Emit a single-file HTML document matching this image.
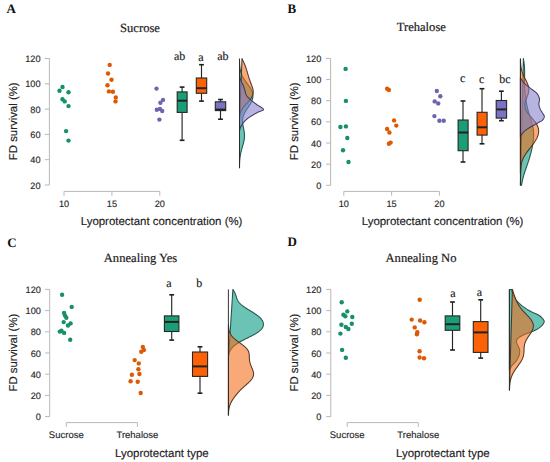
<!DOCTYPE html>
<html><head><meta charset="utf-8"><style>
html,body{margin:0;padding:0;background:#fff;}
svg{display:block;text-rendering:geometricPrecision;}
.ax{stroke:#b8b8b8;stroke-width:1;fill:none;}
.tc{font-family:"Liberation Sans",sans-serif;font-size:9.5px;fill:#2a2a2a;stroke:#2a2a2a;stroke-width:0.15px;}
.tk{font-family:"Liberation Sans",sans-serif;font-size:9.2px;fill:#2a2a2a;stroke:#2a2a2a;stroke-width:0.15px;}
.xl{font-family:"Liberation Sans",sans-serif;font-size:11.45px;fill:#222;stroke:#222;stroke-width:0.15px;}
.yl{font-family:"Liberation Sans",sans-serif;font-size:11.4px;fill:#222;stroke:#222;stroke-width:0.15px;}
.ti{font-family:"Liberation Serif",serif;font-size:12.6px;fill:#222;stroke:#222;stroke-width:0.2px;}
.pl{font-family:"Liberation Serif",serif;font-size:13px;font-weight:bold;fill:#111;}
.lt{font-family:"Liberation Serif",serif;font-size:12px;fill:#1a1a1a;stroke:#1a1a1a;stroke-width:0.15px;}
.wh{stroke:#262626;stroke-width:1.15;}
.cap{stroke:#1e1e1e;stroke-width:1.6;}
.bx{stroke:#262626;stroke-width:1.1;}
.md{stroke:#222;stroke-width:2;}
.dn{stroke-opacity:0.95;stroke-width:1.05;stroke-linejoin:round;}
.bl{stroke:#2a2a2a;stroke-width:0.95;}
</style></head>
<body><svg width="550" height="462" viewBox="0 0 550 462">
<text x="6.6" y="12.7" class="pl">A</text>
<text x="140" y="31.7" class="ti" text-anchor="middle">Sucrose</text>
<line x1="49.4" y1="58.5" x2="49.4" y2="185.0" class="ax"/>
<line x1="44.8" y1="58.5" x2="49.4" y2="58.5" class="ax"/>
<text x="40.6" y="62.1" class="tk" text-anchor="end">120</text>
<line x1="44.8" y1="83.8" x2="49.4" y2="83.8" class="ax"/>
<text x="40.6" y="87.39999999999999" class="tk" text-anchor="end">100</text>
<line x1="44.8" y1="109.1" x2="49.4" y2="109.1" class="ax"/>
<text x="40.6" y="112.69999999999999" class="tk" text-anchor="end">80</text>
<line x1="44.8" y1="134.4" x2="49.4" y2="134.4" class="ax"/>
<text x="40.6" y="138.0" class="tk" text-anchor="end">60</text>
<line x1="44.8" y1="159.7" x2="49.4" y2="159.7" class="ax"/>
<text x="40.6" y="163.29999999999998" class="tk" text-anchor="end">40</text>
<line x1="44.8" y1="185.0" x2="49.4" y2="185.0" class="ax"/>
<text x="40.6" y="188.6" class="tk" text-anchor="end">20</text>
<line x1="64" y1="191.4" x2="159.8" y2="191.4" class="ax"/>
<line x1="64" y1="191.4" x2="64" y2="195.70000000000002" class="ax"/>
<text x="64" y="206.9" class="tk" text-anchor="middle">10</text>
<line x1="111.9" y1="191.4" x2="111.9" y2="195.70000000000002" class="ax"/>
<text x="111.9" y="206.9" class="tk" text-anchor="middle">15</text>
<line x1="159.8" y1="191.4" x2="159.8" y2="195.70000000000002" class="ax"/>
<text x="159.8" y="206.9" class="tk" text-anchor="middle">20</text>
<text x="161.6" y="224.8" class="xl" text-anchor="middle">Lyoprotectant concentration (%)</text>
<text class="yl" transform="translate(17.4,121.3) rotate(-90)" text-anchor="middle">FD survival (%)</text>
<circle cx="62.5" cy="87" r="2.2" fill="#168f6b"/>
<circle cx="59.5" cy="90.8" r="2.2" fill="#168f6b"/>
<circle cx="68.5" cy="92.2" r="2.2" fill="#168f6b"/>
<circle cx="62.5" cy="99.2" r="2.2" fill="#168f6b"/>
<circle cx="64.7" cy="101.4" r="2.2" fill="#168f6b"/>
<circle cx="68.5" cy="106.1" r="2.2" fill="#168f6b"/>
<circle cx="66.1" cy="131.1" r="2.2" fill="#168f6b"/>
<circle cx="68.5" cy="140.6" r="2.2" fill="#168f6b"/>
<circle cx="109.7" cy="64.9" r="2.2" fill="#dc5a06"/>
<circle cx="108" cy="73.5" r="2.2" fill="#dc5a06"/>
<circle cx="111.5" cy="79.8" r="2.2" fill="#dc5a06"/>
<circle cx="107.5" cy="85.3" r="2.2" fill="#dc5a06"/>
<circle cx="108.9" cy="91.4" r="2.2" fill="#dc5a06"/>
<circle cx="112.9" cy="91.7" r="2.2" fill="#dc5a06"/>
<circle cx="115.8" cy="97.4" r="2.2" fill="#dc5a06"/>
<circle cx="115.5" cy="101.4" r="2.2" fill="#dc5a06"/>
<circle cx="156.5" cy="88.6" r="2.2" fill="#6c66b0"/>
<circle cx="163" cy="99.9" r="2.2" fill="#6c66b0"/>
<circle cx="160.4" cy="102.8" r="2.2" fill="#6c66b0"/>
<circle cx="156.8" cy="109.7" r="2.2" fill="#6c66b0"/>
<circle cx="159.9" cy="108.9" r="2.2" fill="#6c66b0"/>
<circle cx="162.2" cy="111" r="2.2" fill="#6c66b0"/>
<circle cx="159.4" cy="119.6" r="2.2" fill="#6c66b0"/>
<line x1="182.1" y1="87.1" x2="182.1" y2="91.9" class="wh"/>
<line x1="182.1" y1="112.4" x2="182.1" y2="140.3" class="wh"/>
<line x1="179.7" y1="87.1" x2="184.5" y2="87.1" class="cap"/>
<line x1="179.7" y1="140.3" x2="184.5" y2="140.3" class="cap"/>
<rect x="177.2" y="91.9" width="9.900000000000006" height="20.5" fill="#1b9e77" class="bx"/>
<line x1="177.2" y1="100.7" x2="187.1" y2="100.7" class="md"/>
<line x1="201.5" y1="64.7" x2="201.5" y2="78" class="wh"/>
<line x1="201.5" y1="93.3" x2="201.5" y2="101.1" class="wh"/>
<line x1="199.1" y1="64.7" x2="203.9" y2="64.7" class="cap"/>
<line x1="199.1" y1="101.1" x2="203.9" y2="101.1" class="cap"/>
<rect x="196.3" y="78" width="10.399999999999977" height="15.299999999999997" fill="#fd6105" class="bx"/>
<line x1="196.3" y1="88.2" x2="206.7" y2="88.2" class="md"/>
<line x1="220.5" y1="99.5" x2="220.5" y2="101.8" class="wh"/>
<line x1="220.5" y1="110.6" x2="220.5" y2="119.2" class="wh"/>
<line x1="218.1" y1="99.5" x2="222.9" y2="99.5" class="cap"/>
<line x1="218.1" y1="119.2" x2="222.9" y2="119.2" class="cap"/>
<rect x="215.3" y="101.8" width="10.399999999999977" height="8.799999999999997" fill="#7a72c2" class="bx"/>
<line x1="215.3" y1="109.6" x2="225.7" y2="109.6" class="md"/>
<text x="179.6" y="60.3" class="lt" text-anchor="middle">ab</text>
<text x="200.9" y="60.5" class="lt" text-anchor="middle">a</text>
<text x="222.9" y="59.5" class="lt" text-anchor="middle">ab</text>
<path d="M 239.50 167.85 L 239.53 167.85 L 239.54 167.17 L 239.55 166.49 L 239.56 165.81 L 239.58 165.13 L 239.59 164.45 L 239.61 163.77 L 239.64 163.09 L 239.67 162.41 L 239.70 161.73 L 239.74 161.05 L 239.78 160.37 L 239.83 159.69 L 239.89 159.01 L 239.96 158.33 L 240.03 157.65 L 240.11 156.97 L 240.20 156.29 L 240.30 155.61 L 240.42 154.93 L 240.54 154.25 L 240.67 153.57 L 240.81 152.89 L 240.96 152.21 L 241.11 151.53 L 241.28 150.85 L 241.46 150.17 L 241.64 149.49 L 241.83 148.81 L 242.02 148.13 L 242.22 147.45 L 242.42 146.77 L 242.61 146.10 L 242.81 145.42 L 243.01 144.74 L 243.20 144.06 L 243.38 143.38 L 243.55 142.70 L 243.72 142.02 L 243.87 141.34 L 244.01 140.66 L 244.13 139.98 L 244.24 139.30 L 244.33 138.62 L 244.40 137.94 L 244.46 137.26 L 244.49 136.58 L 244.51 135.90 L 244.50 135.22 L 244.48 134.54 L 244.44 133.86 L 244.38 133.18 L 244.30 132.50 L 244.21 131.82 L 244.11 131.14 L 243.99 130.46 L 243.86 129.78 L 243.73 129.10 L 243.59 128.42 L 243.45 127.74 L 243.31 127.06 L 243.18 126.38 L 243.05 125.70 L 242.92 125.02 L 242.81 124.34 L 242.72 123.66 L 242.64 122.98 L 242.58 122.30 L 242.55 121.62 L 242.54 120.94 L 242.55 120.26 L 242.60 119.58 L 242.67 118.90 L 242.78 118.22 L 242.92 117.54 L 243.09 116.86 L 243.29 116.18 L 243.52 115.50 L 243.78 114.82 L 244.08 114.14 L 244.40 113.46 L 244.75 112.78 L 245.12 112.10 L 245.51 111.42 L 245.92 110.74 L 246.35 110.06 L 246.79 109.38 L 247.24 108.70 L 247.69 108.02 L 248.15 107.34 L 248.60 106.66 L 249.04 105.98 L 249.48 105.30 L 249.90 104.62 L 250.31 103.94 L 250.69 103.26 L 251.06 102.58 L 251.40 101.90 L 251.71 101.22 L 251.99 100.54 L 252.23 99.86 L 252.44 99.18 L 252.62 98.50 L 252.76 97.82 L 252.85 97.14 L 252.91 96.46 L 252.93 95.78 L 252.90 95.10 L 252.84 94.42 L 252.73 93.74 L 252.58 93.06 L 252.40 92.38 L 252.17 91.70 L 251.91 91.02 L 251.61 90.34 L 251.28 89.66 L 250.91 88.98 L 250.52 88.30 L 250.10 87.62 L 249.66 86.94 L 249.20 86.26 L 248.73 85.58 L 248.24 84.90 L 247.75 84.22 L 247.25 83.54 L 246.75 82.86 L 246.26 82.18 L 245.77 81.50 L 245.29 80.83 L 244.83 80.15 L 244.38 79.47 L 243.94 78.79 L 243.53 78.11 L 243.14 77.43 L 242.77 76.75 L 242.43 76.07 L 242.11 75.39 L 241.81 74.71 L 241.54 74.03 L 241.29 73.35 L 241.06 72.67 L 240.86 71.99 L 240.67 71.31 L 240.51 70.63 L 240.36 69.95 L 240.23 69.27 L 240.12 68.59 L 240.02 67.91 L 239.94 67.23 L 239.87 66.55 L 239.80 65.87 L 239.75 65.19 L 239.71 64.51 L 239.67 63.83 L 239.64 63.15 L 239.61 62.47 L 239.59 61.79 L 239.57 61.11 L 239.56 60.43 L 239.55 59.75 Z" fill="#00977f" fill-opacity="0.58" stroke="#1d4a40" class="dn"/>
<path d="M 239.50 121.21 L 239.54 121.21 L 239.55 120.81 L 239.56 120.42 L 239.58 120.02 L 239.59 119.63 L 239.61 119.24 L 239.63 118.84 L 239.65 118.45 L 239.68 118.05 L 239.71 117.66 L 239.74 117.26 L 239.78 116.87 L 239.82 116.47 L 239.87 116.08 L 239.93 115.69 L 239.99 115.29 L 240.06 114.90 L 240.14 114.50 L 240.22 114.11 L 240.32 113.71 L 240.42 113.32 L 240.53 112.93 L 240.66 112.53 L 240.79 112.14 L 240.94 111.74 L 241.10 111.35 L 241.27 110.95 L 241.45 110.56 L 241.65 110.16 L 241.86 109.77 L 242.08 109.38 L 242.32 108.98 L 242.56 108.59 L 242.82 108.19 L 243.09 107.80 L 243.38 107.40 L 243.67 107.01 L 243.98 106.62 L 244.29 106.22 L 244.61 105.83 L 244.94 105.43 L 245.28 105.04 L 245.62 104.64 L 245.97 104.25 L 246.32 103.85 L 246.68 103.46 L 247.03 103.07 L 247.39 102.67 L 247.74 102.28 L 248.09 101.88 L 248.44 101.49 L 248.78 101.09 L 249.12 100.70 L 249.45 100.30 L 249.77 99.91 L 250.08 99.52 L 250.38 99.12 L 250.67 98.73 L 250.94 98.33 L 251.20 97.94 L 251.45 97.54 L 251.69 97.15 L 251.91 96.76 L 252.11 96.36 L 252.29 95.97 L 252.46 95.57 L 252.62 95.18 L 252.75 94.78 L 252.87 94.39 L 252.97 93.99 L 253.05 93.60 L 253.12 93.21 L 253.17 92.81 L 253.20 92.42 L 253.21 92.02 L 253.21 91.63 L 253.20 91.23 L 253.17 90.84 L 253.12 90.45 L 253.07 90.05 L 253.00 89.66 L 252.91 89.26 L 252.82 88.87 L 252.72 88.47 L 252.61 88.08 L 252.49 87.68 L 252.37 87.29 L 252.23 86.90 L 252.10 86.50 L 251.96 86.11 L 251.81 85.71 L 251.67 85.32 L 251.52 84.92 L 251.37 84.53 L 251.22 84.14 L 251.07 83.74 L 250.92 83.35 L 250.77 82.95 L 250.62 82.56 L 250.48 82.16 L 250.33 81.77 L 250.19 81.37 L 250.05 80.98 L 249.91 80.59 L 249.77 80.19 L 249.64 79.80 L 249.51 79.40 L 249.38 79.01 L 249.25 78.61 L 249.12 78.22 L 249.00 77.82 L 248.87 77.43 L 248.75 77.04 L 248.63 76.64 L 248.51 76.25 L 248.39 75.85 L 248.27 75.46 L 248.16 75.06 L 248.04 74.67 L 247.92 74.28 L 247.81 73.88 L 247.69 73.49 L 247.58 73.09 L 247.46 72.70 L 247.35 72.30 L 247.23 71.91 L 247.11 71.51 L 247.00 71.12 L 246.88 70.73 L 246.76 70.33 L 246.64 69.94 L 246.52 69.54 L 246.39 69.15 L 246.27 68.75 L 246.14 68.36 L 246.01 67.97 L 245.87 67.57 L 245.74 67.18 L 245.59 66.78 L 245.45 66.39 L 245.30 65.99 L 245.15 65.60 L 244.99 65.20 L 244.83 64.81 L 244.67 64.42 L 244.50 64.02 L 244.33 63.63 L 244.15 63.23 L 243.98 62.84 L 243.80 62.44 L 243.62 62.05 L 243.43 61.66 L 243.25 61.26 L 243.07 60.87 L 242.89 60.47 L 242.70 60.08 L 242.52 59.68 L 242.35 59.29 L 242.17 58.89 L 242.00 58.50 Z" fill="#f56916" fill-opacity="0.58" stroke="#4a2e1c" class="dn"/>
<path d="M 239.50 76.00 L 239.50 76.00 L 239.57 76.35 L 239.65 76.69 L 239.73 77.04 L 239.82 77.38 L 239.92 77.73 L 240.01 78.08 L 240.12 78.42 L 240.22 78.77 L 240.33 79.11 L 240.45 79.46 L 240.57 79.81 L 240.69 80.15 L 240.81 80.50 L 240.94 80.84 L 241.07 81.19 L 241.22 81.53 L 241.38 81.88 L 241.55 82.23 L 241.74 82.57 L 241.92 82.92 L 242.12 83.26 L 242.31 83.61 L 242.51 83.96 L 242.70 84.30 L 242.88 84.65 L 243.06 84.99 L 243.22 85.34 L 243.37 85.69 L 243.51 86.03 L 243.64 86.38 L 243.76 86.72 L 243.87 87.07 L 243.98 87.42 L 244.08 87.76 L 244.18 88.11 L 244.28 88.45 L 244.37 88.80 L 244.47 89.14 L 244.56 89.49 L 244.66 89.84 L 244.76 90.18 L 244.86 90.53 L 244.96 90.87 L 245.07 91.22 L 245.17 91.57 L 245.27 91.91 L 245.36 92.26 L 245.46 92.60 L 245.56 92.95 L 245.66 93.30 L 245.77 93.64 L 245.89 93.99 L 246.02 94.33 L 246.16 94.68 L 246.31 95.03 L 246.49 95.37 L 246.71 95.72 L 246.95 96.06 L 247.21 96.41 L 247.50 96.75 L 247.81 97.10 L 248.13 97.45 L 248.46 97.79 L 248.81 98.14 L 249.16 98.48 L 249.52 98.83 L 249.87 99.18 L 250.23 99.52 L 250.61 99.87 L 251.01 100.21 L 251.43 100.56 L 251.86 100.91 L 252.31 101.25 L 252.77 101.60 L 253.23 101.94 L 253.70 102.29 L 254.18 102.64 L 254.65 102.98 L 255.13 103.33 L 255.60 103.67 L 256.07 104.02 L 256.52 104.36 L 256.98 104.71 L 257.49 105.06 L 258.04 105.40 L 258.62 105.75 L 259.22 106.09 L 259.82 106.44 L 260.42 106.79 L 261.00 107.13 L 261.54 107.48 L 262.04 107.82 L 262.49 108.17 L 262.87 108.52 L 263.17 108.86 L 263.38 109.21 L 263.49 109.55 L 263.42 109.90 L 262.96 110.25 L 262.18 110.59 L 261.22 110.94 L 260.18 111.28 L 259.18 111.63 L 258.35 111.97 L 257.67 112.32 L 257.02 112.67 L 256.39 113.01 L 255.77 113.36 L 255.17 113.70 L 254.58 114.05 L 254.00 114.40 L 253.43 114.74 L 252.85 115.09 L 252.28 115.43 L 251.70 115.78 L 251.13 116.13 L 250.57 116.47 L 250.02 116.82 L 249.49 117.16 L 248.98 117.51 L 248.49 117.86 L 248.04 118.20 L 247.60 118.55 L 247.17 118.89 L 246.76 119.24 L 246.36 119.58 L 245.98 119.93 L 245.61 120.28 L 245.26 120.62 L 244.93 120.97 L 244.61 121.31 L 244.30 121.66 L 244.00 122.01 L 243.72 122.35 L 243.44 122.70 L 243.18 123.04 L 242.92 123.39 L 242.68 123.74 L 242.45 124.08 L 242.21 124.43 L 241.99 124.77 L 241.76 125.12 L 241.55 125.47 L 241.34 125.81 L 241.14 126.16 L 240.95 126.50 L 240.78 126.85 L 240.62 127.19 L 240.48 127.54 L 240.35 127.89 L 240.23 128.23 L 240.11 128.58 L 240.00 128.92 L 239.89 129.27 L 239.79 129.62 L 239.70 129.96 L 239.62 130.31 L 239.56 130.65 L 239.50 131.00 Z" fill="#837ecb" fill-opacity="0.58" stroke="#36345a" class="dn"/>
<line x1="239.5" y1="58.5" x2="239.5" y2="167.85177718704466" class="bl"/>
<text x="287.6" y="13" class="pl">B</text>
<text x="421.3" y="31.3" class="ti" text-anchor="middle">Trehalose</text>
<line x1="330.6" y1="58.4" x2="330.6" y2="185.3" class="ax"/>
<line x1="326.0" y1="58.4" x2="330.6" y2="58.4" class="ax"/>
<text x="321.3" y="62.0" class="tk" text-anchor="end">120</text>
<line x1="326.0" y1="79.55" x2="330.6" y2="79.55" class="ax"/>
<text x="321.3" y="83.14999999999999" class="tk" text-anchor="end">100</text>
<line x1="326.0" y1="100.69999999999999" x2="330.6" y2="100.69999999999999" class="ax"/>
<text x="321.3" y="104.29999999999998" class="tk" text-anchor="end">80</text>
<line x1="326.0" y1="121.85" x2="330.6" y2="121.85" class="ax"/>
<text x="321.3" y="125.44999999999999" class="tk" text-anchor="end">60</text>
<line x1="326.0" y1="143.0" x2="330.6" y2="143.0" class="ax"/>
<text x="321.3" y="146.6" class="tk" text-anchor="end">40</text>
<line x1="326.0" y1="164.15" x2="330.6" y2="164.15" class="ax"/>
<text x="321.3" y="167.75" class="tk" text-anchor="end">20</text>
<line x1="326.0" y1="185.3" x2="330.6" y2="185.3" class="ax"/>
<text x="321.3" y="188.9" class="tk" text-anchor="end">0</text>
<line x1="343.8" y1="191.4" x2="439.4" y2="191.4" class="ax"/>
<line x1="343.8" y1="191.4" x2="343.8" y2="195.70000000000002" class="ax"/>
<text x="343.8" y="206.9" class="tk" text-anchor="middle">10</text>
<line x1="391.6" y1="191.4" x2="391.6" y2="195.70000000000002" class="ax"/>
<text x="391.6" y="206.9" class="tk" text-anchor="middle">15</text>
<line x1="439.4" y1="191.4" x2="439.4" y2="195.70000000000002" class="ax"/>
<text x="439.4" y="206.9" class="tk" text-anchor="middle">20</text>
<text x="442.6" y="224.8" class="xl" text-anchor="middle">Lyoprotectant concentration (%)</text>
<text class="yl" transform="translate(298.3,121.3) rotate(-90)" text-anchor="middle">FD survival (%)</text>
<circle cx="345.6" cy="68.9" r="2.2" fill="#168f6b"/>
<circle cx="345.9" cy="100.9" r="2.2" fill="#168f6b"/>
<circle cx="340.4" cy="127" r="2.2" fill="#168f6b"/>
<circle cx="345.9" cy="126.4" r="2.2" fill="#168f6b"/>
<circle cx="347.3" cy="138" r="2.2" fill="#168f6b"/>
<circle cx="343" cy="150.3" r="2.2" fill="#168f6b"/>
<circle cx="348.5" cy="162" r="2.2" fill="#168f6b"/>
<circle cx="387.1" cy="88.8" r="2.2" fill="#dc5a06"/>
<circle cx="388.9" cy="90" r="2.2" fill="#dc5a06"/>
<circle cx="394.1" cy="120.4" r="2.2" fill="#dc5a06"/>
<circle cx="396.3" cy="125.6" r="2.2" fill="#dc5a06"/>
<circle cx="387.1" cy="129" r="2.2" fill="#dc5a06"/>
<circle cx="389.4" cy="132.5" r="2.2" fill="#dc5a06"/>
<circle cx="388.9" cy="143.8" r="2.2" fill="#dc5a06"/>
<circle cx="390.6" cy="142.6" r="2.2" fill="#dc5a06"/>
<circle cx="436.8" cy="91" r="2.2" fill="#6c66b0"/>
<circle cx="440.3" cy="96.2" r="2.2" fill="#6c66b0"/>
<circle cx="434.7" cy="101.4" r="2.2" fill="#6c66b0"/>
<circle cx="438.2" cy="103.4" r="2.2" fill="#6c66b0"/>
<circle cx="434.4" cy="116.1" r="2.2" fill="#6c66b0"/>
<circle cx="439.4" cy="120.8" r="2.2" fill="#6c66b0"/>
<circle cx="443.7" cy="120.8" r="2.2" fill="#6c66b0"/>
<line x1="463" y1="101" x2="463" y2="120" class="wh"/>
<line x1="463" y1="150.7" x2="463" y2="162" class="wh"/>
<line x1="460.6" y1="101" x2="465.4" y2="101" class="cap"/>
<line x1="460.6" y1="162" x2="465.4" y2="162" class="cap"/>
<rect x="458.1" y="120" width="10.0" height="30.69999999999999" fill="#1b9e77" class="bx"/>
<line x1="458.1" y1="132.5" x2="468.1" y2="132.5" class="md"/>
<line x1="482" y1="88.7" x2="482" y2="112.3" class="wh"/>
<line x1="482" y1="135.1" x2="482" y2="143.8" class="wh"/>
<line x1="479.6" y1="88.7" x2="484.4" y2="88.7" class="cap"/>
<line x1="479.6" y1="143.8" x2="484.4" y2="143.8" class="cap"/>
<rect x="477.1" y="112.3" width="10.0" height="22.799999999999997" fill="#fd6105" class="bx"/>
<line x1="477.1" y1="127.3" x2="487.1" y2="127.3" class="md"/>
<line x1="501.4" y1="91.2" x2="501.4" y2="100.5" class="wh"/>
<line x1="501.4" y1="118.1" x2="501.4" y2="120.7" class="wh"/>
<line x1="499.0" y1="91.2" x2="503.79999999999995" y2="91.2" class="cap"/>
<line x1="499.0" y1="120.7" x2="503.79999999999995" y2="120.7" class="cap"/>
<rect x="496.2" y="100.5" width="10.400000000000034" height="17.599999999999994" fill="#7a72c2" class="bx"/>
<line x1="496.2" y1="109.4" x2="506.6" y2="109.4" class="md"/>
<text x="462.7" y="81.5" class="lt" text-anchor="middle">c</text>
<text x="481.7" y="83" class="lt" text-anchor="middle">c</text>
<text x="505" y="83" class="lt" text-anchor="middle">bc</text>
<path d="M 520.40 185.30 L 521.53 185.30 L 521.65 184.50 L 521.79 183.70 L 521.93 182.91 L 522.08 182.11 L 522.24 181.31 L 522.41 180.51 L 522.59 179.71 L 522.78 178.92 L 522.98 178.12 L 523.19 177.32 L 523.41 176.52 L 523.64 175.72 L 523.88 174.92 L 524.12 174.13 L 524.37 173.33 L 524.63 172.53 L 524.89 171.73 L 525.15 170.93 L 525.43 170.14 L 525.70 169.34 L 525.98 168.54 L 526.25 167.74 L 526.53 166.94 L 526.81 166.15 L 527.09 165.35 L 527.37 164.55 L 527.64 163.75 L 527.91 162.95 L 528.18 162.15 L 528.44 161.36 L 528.70 160.56 L 528.96 159.76 L 529.21 158.96 L 529.45 158.16 L 529.69 157.37 L 529.92 156.57 L 530.15 155.77 L 530.37 154.97 L 530.58 154.17 L 530.79 153.38 L 530.99 152.58 L 531.19 151.78 L 531.38 150.98 L 531.56 150.18 L 531.74 149.38 L 531.92 148.59 L 532.08 147.79 L 532.25 146.99 L 532.40 146.19 L 532.55 145.39 L 532.69 144.60 L 532.83 143.80 L 532.96 143.00 L 533.08 142.20 L 533.19 141.40 L 533.29 140.61 L 533.38 139.81 L 533.46 139.01 L 533.53 138.21 L 533.58 137.41 L 533.62 136.62 L 533.65 135.82 L 533.66 135.02 L 533.66 134.22 L 533.64 133.42 L 533.60 132.62 L 533.54 131.83 L 533.47 131.03 L 533.38 130.23 L 533.28 129.43 L 533.15 128.63 L 533.02 127.84 L 532.86 127.04 L 532.69 126.24 L 532.50 125.44 L 532.31 124.64 L 532.10 123.85 L 531.88 123.05 L 531.65 122.25 L 531.41 121.45 L 531.17 120.65 L 530.92 119.85 L 530.66 119.06 L 530.41 118.26 L 530.16 117.46 L 529.90 116.66 L 529.65 115.86 L 529.40 115.07 L 529.16 114.27 L 528.92 113.47 L 528.69 112.67 L 528.46 111.87 L 528.25 111.08 L 528.03 110.28 L 527.83 109.48 L 527.64 108.68 L 527.45 107.88 L 527.27 107.08 L 527.09 106.29 L 526.93 105.49 L 526.77 104.69 L 526.61 103.89 L 526.47 103.09 L 526.32 102.30 L 526.19 101.50 L 526.06 100.70 L 525.93 99.90 L 525.81 99.10 L 525.69 98.31 L 525.58 97.51 L 525.47 96.71 L 525.36 95.91 L 525.26 95.11 L 525.17 94.32 L 525.08 93.52 L 524.99 92.72 L 524.91 91.92 L 524.84 91.12 L 524.77 90.32 L 524.71 89.53 L 524.66 88.73 L 524.62 87.93 L 524.58 87.13 L 524.55 86.33 L 524.52 85.54 L 524.51 84.74 L 524.50 83.94 L 524.49 83.14 L 524.49 82.34 L 524.50 81.55 L 524.51 80.75 L 524.53 79.95 L 524.54 79.15 L 524.56 78.35 L 524.58 77.55 L 524.60 76.76 L 524.62 75.96 L 524.64 75.16 L 524.65 74.36 L 524.66 73.56 L 524.66 72.77 L 524.66 71.97 L 524.65 71.17 L 524.64 70.37 L 524.61 69.57 L 524.58 68.78 L 524.53 67.98 L 524.48 67.18 L 524.42 66.38 L 524.35 65.58 L 524.27 64.78 L 524.18 63.99 L 524.09 63.19 L 523.98 62.39 L 523.87 61.59 L 523.76 60.79 L 523.63 60.00 L 523.50 59.20 L 523.37 58.40 Z" fill="#00977f" fill-opacity="0.58" stroke="#1d4a40" class="dn"/>
<path d="M 520.40 173.34 L 520.48 173.34 L 520.50 172.63 L 520.52 171.91 L 520.55 171.19 L 520.59 170.47 L 520.63 169.76 L 520.68 169.04 L 520.74 168.32 L 520.81 167.60 L 520.89 166.89 L 520.98 166.17 L 521.09 165.45 L 521.21 164.73 L 521.35 164.02 L 521.51 163.30 L 521.68 162.58 L 521.88 161.86 L 522.10 161.15 L 522.35 160.43 L 522.62 159.71 L 522.91 158.99 L 523.24 158.28 L 523.58 157.56 L 523.96 156.84 L 524.36 156.12 L 524.78 155.41 L 525.23 154.69 L 525.70 153.97 L 526.19 153.25 L 526.70 152.54 L 527.22 151.82 L 527.76 151.10 L 528.31 150.38 L 528.87 149.67 L 529.44 148.95 L 530.01 148.23 L 530.57 147.51 L 531.14 146.80 L 531.70 146.08 L 532.25 145.36 L 532.79 144.64 L 533.31 143.93 L 533.83 143.21 L 534.32 142.49 L 534.80 141.77 L 535.25 141.06 L 535.69 140.34 L 536.09 139.62 L 536.48 138.90 L 536.84 138.19 L 537.17 137.47 L 537.47 136.75 L 537.75 136.03 L 537.99 135.31 L 538.19 134.60 L 538.36 133.88 L 538.50 133.16 L 538.60 132.44 L 538.65 131.73 L 538.67 131.01 L 538.64 130.29 L 538.57 129.57 L 538.45 128.86 L 538.29 128.14 L 538.08 127.42 L 537.82 126.70 L 537.52 125.99 L 537.17 125.27 L 536.78 124.55 L 536.35 123.83 L 535.88 123.12 L 535.38 122.40 L 534.85 121.68 L 534.29 120.96 L 533.71 120.25 L 533.11 119.53 L 532.50 118.81 L 531.88 118.09 L 531.26 117.38 L 530.64 116.66 L 530.03 115.94 L 529.44 115.22 L 528.86 114.51 L 528.31 113.79 L 527.79 113.07 L 527.31 112.35 L 526.85 111.64 L 526.44 110.92 L 526.08 110.20 L 525.76 109.48 L 525.48 108.77 L 525.26 108.05 L 525.08 107.33 L 524.95 106.61 L 524.88 105.90 L 524.85 105.18 L 524.87 104.46 L 524.93 103.74 L 525.03 103.03 L 525.18 102.31 L 525.36 101.59 L 525.57 100.87 L 525.80 100.16 L 526.06 99.44 L 526.33 98.72 L 526.62 98.00 L 526.90 97.29 L 527.19 96.57 L 527.47 95.85 L 527.74 95.13 L 527.99 94.41 L 528.22 93.70 L 528.42 92.98 L 528.59 92.26 L 528.72 91.54 L 528.81 90.83 L 528.87 90.11 L 528.88 89.39 L 528.85 88.67 L 528.78 87.96 L 528.66 87.24 L 528.51 86.52 L 528.31 85.80 L 528.08 85.09 L 527.82 84.37 L 527.53 83.65 L 527.22 82.93 L 526.88 82.22 L 526.53 81.50 L 526.17 80.78 L 525.80 80.06 L 525.43 79.35 L 525.05 78.63 L 524.69 77.91 L 524.33 77.19 L 523.98 76.48 L 523.65 75.76 L 523.33 75.04 L 523.03 74.32 L 522.75 73.61 L 522.48 72.89 L 522.24 72.17 L 522.01 71.45 L 521.81 70.74 L 521.63 70.02 L 521.46 69.30 L 521.31 68.58 L 521.18 67.87 L 521.06 67.15 L 520.96 66.43 L 520.87 65.71 L 520.80 65.00 L 520.73 64.28 L 520.67 63.56 L 520.63 62.84 L 520.59 62.13 L 520.55 61.41 L 520.52 60.69 L 520.50 59.97 L 520.48 59.26 Z" fill="#f56916" fill-opacity="0.58" stroke="#4a2e1c" class="dn"/>
<path d="M 520.40 77.00 L 520.40 77.00 L 520.52 77.38 L 520.65 77.75 L 520.80 78.13 L 520.98 78.51 L 521.17 78.89 L 521.37 79.26 L 521.59 79.64 L 521.82 80.02 L 522.06 80.40 L 522.32 80.77 L 522.58 81.15 L 522.85 81.53 L 523.13 81.91 L 523.42 82.28 L 523.75 82.66 L 524.12 83.04 L 524.51 83.42 L 524.94 83.79 L 525.38 84.17 L 525.83 84.55 L 526.31 84.92 L 526.78 85.30 L 527.27 85.68 L 527.75 86.06 L 528.23 86.43 L 528.70 86.81 L 529.15 87.19 L 529.59 87.57 L 530.05 87.94 L 530.53 88.32 L 531.03 88.70 L 531.53 89.08 L 532.05 89.45 L 532.57 89.83 L 533.09 90.21 L 533.60 90.58 L 534.11 90.96 L 534.60 91.34 L 535.08 91.72 L 535.53 92.09 L 535.97 92.47 L 536.37 92.85 L 536.74 93.23 L 537.08 93.60 L 537.37 93.98 L 537.62 94.36 L 537.83 94.74 L 538.04 95.11 L 538.24 95.49 L 538.44 95.87 L 538.63 96.25 L 538.81 96.62 L 538.97 97.00 L 539.12 97.38 L 539.25 97.75 L 539.35 98.13 L 539.43 98.51 L 539.48 98.89 L 539.50 99.26 L 539.49 99.64 L 539.46 100.02 L 539.42 100.40 L 539.36 100.77 L 539.29 101.15 L 539.22 101.53 L 539.15 101.91 L 539.08 102.28 L 539.02 102.66 L 538.97 103.04 L 538.93 103.42 L 538.90 103.79 L 538.90 104.17 L 538.92 104.55 L 538.97 104.92 L 539.03 105.30 L 539.10 105.68 L 539.19 106.06 L 539.30 106.43 L 539.41 106.81 L 539.53 107.19 L 539.66 107.57 L 539.79 107.94 L 539.93 108.32 L 540.06 108.70 L 540.21 109.08 L 540.38 109.45 L 540.57 109.83 L 540.79 110.21 L 541.02 110.58 L 541.26 110.96 L 541.50 111.34 L 541.74 111.72 L 541.97 112.09 L 542.18 112.47 L 542.40 112.85 L 542.65 113.23 L 542.91 113.60 L 543.17 113.98 L 543.43 114.36 L 543.67 114.74 L 543.89 115.11 L 544.07 115.49 L 544.21 115.87 L 544.28 116.25 L 544.30 116.62 L 544.25 117.00 L 544.16 117.38 L 544.03 117.75 L 543.87 118.13 L 543.68 118.51 L 543.47 118.89 L 543.24 119.26 L 543.00 119.64 L 542.67 120.02 L 542.23 120.40 L 541.71 120.77 L 541.12 121.15 L 540.48 121.53 L 539.79 121.91 L 539.09 122.28 L 538.37 122.66 L 537.67 123.04 L 536.99 123.42 L 536.35 123.79 L 535.70 124.17 L 535.03 124.55 L 534.34 124.92 L 533.64 125.30 L 532.94 125.68 L 532.24 126.06 L 531.54 126.43 L 530.87 126.81 L 530.21 127.19 L 529.58 127.57 L 528.99 127.94 L 528.41 128.32 L 527.84 128.70 L 527.27 129.08 L 526.71 129.45 L 526.17 129.83 L 525.65 130.21 L 525.15 130.58 L 524.68 130.96 L 524.25 131.34 L 523.86 131.72 L 523.52 132.09 L 523.19 132.47 L 522.87 132.85 L 522.56 133.23 L 522.27 133.60 L 521.98 133.98 L 521.71 134.36 L 521.46 134.74 L 521.23 135.11 L 521.01 135.49 L 520.82 135.87 L 520.65 136.25 L 520.51 136.62 L 520.40 137.00 Z" fill="#837ecb" fill-opacity="0.58" stroke="#36345a" class="dn"/>
<line x1="520.4" y1="58.4" x2="520.4" y2="185.3" class="bl"/>
<text x="7.2" y="246.6" class="pl">C</text>
<text x="140.5" y="262.3" class="ti" text-anchor="middle">Annealing Yes</text>
<line x1="49.7" y1="289.4" x2="49.7" y2="416.59999999999997" class="ax"/>
<line x1="45.1" y1="289.4" x2="49.7" y2="289.4" class="ax"/>
<text x="40.9" y="293.0" class="tk" text-anchor="end">120</text>
<line x1="45.1" y1="310.59999999999997" x2="49.7" y2="310.59999999999997" class="ax"/>
<text x="40.9" y="314.2" class="tk" text-anchor="end">100</text>
<line x1="45.1" y1="331.79999999999995" x2="49.7" y2="331.79999999999995" class="ax"/>
<text x="40.9" y="335.4" class="tk" text-anchor="end">80</text>
<line x1="45.1" y1="353.0" x2="49.7" y2="353.0" class="ax"/>
<text x="40.9" y="356.6" class="tk" text-anchor="end">60</text>
<line x1="45.1" y1="374.2" x2="49.7" y2="374.2" class="ax"/>
<text x="40.9" y="377.8" class="tk" text-anchor="end">40</text>
<line x1="45.1" y1="395.4" x2="49.7" y2="395.4" class="ax"/>
<text x="40.9" y="399.0" class="tk" text-anchor="end">20</text>
<line x1="45.1" y1="416.59999999999997" x2="49.7" y2="416.59999999999997" class="ax"/>
<text x="40.9" y="420.2" class="tk" text-anchor="end">0</text>
<line x1="66.3" y1="422.6" x2="137.4" y2="422.6" class="ax"/>
<line x1="66.3" y1="422.6" x2="66.3" y2="426.90000000000003" class="ax"/>
<text x="66.3" y="438.2" class="tc" text-anchor="middle">Sucrose</text>
<line x1="137.4" y1="422.6" x2="137.4" y2="426.90000000000003" class="ax"/>
<text x="137.4" y="438.2" class="tc" text-anchor="middle">Trehalose</text>
<text x="161.9" y="456.5" class="xl" text-anchor="middle">Lyoprotectant type</text>
<text class="yl" transform="translate(17.4,352.6) rotate(-90)" text-anchor="middle">FD survival (%)</text>
<circle cx="62.1" cy="294.7" r="2.2" fill="#168f6b"/>
<circle cx="71.7" cy="306.9" r="2.2" fill="#168f6b"/>
<circle cx="64.1" cy="313" r="2.2" fill="#168f6b"/>
<circle cx="65" cy="315.6" r="2.2" fill="#168f6b"/>
<circle cx="66.3" cy="317.7" r="2.2" fill="#168f6b"/>
<circle cx="63.7" cy="322.1" r="2.2" fill="#168f6b"/>
<circle cx="70.6" cy="323.4" r="2.2" fill="#168f6b"/>
<circle cx="68" cy="325.5" r="2.2" fill="#168f6b"/>
<circle cx="59.8" cy="331.6" r="2.2" fill="#168f6b"/>
<circle cx="61.5" cy="330.7" r="2.2" fill="#168f6b"/>
<circle cx="64.1" cy="332.9" r="2.2" fill="#168f6b"/>
<circle cx="70.2" cy="339.7" r="2.2" fill="#168f6b"/>
<circle cx="142.8" cy="346.9" r="2.2" fill="#dc5a06"/>
<circle cx="143.9" cy="350" r="2.2" fill="#dc5a06"/>
<circle cx="141.3" cy="351.7" r="2.2" fill="#dc5a06"/>
<circle cx="134.7" cy="360.1" r="2.2" fill="#dc5a06"/>
<circle cx="138.8" cy="363.4" r="2.2" fill="#dc5a06"/>
<circle cx="138.4" cy="369.2" r="2.2" fill="#dc5a06"/>
<circle cx="139.4" cy="374" r="2.2" fill="#dc5a06"/>
<circle cx="131.9" cy="374.8" r="2.2" fill="#dc5a06"/>
<circle cx="130.6" cy="381.3" r="2.2" fill="#dc5a06"/>
<circle cx="137.7" cy="381.8" r="2.2" fill="#dc5a06"/>
<circle cx="140.7" cy="393" r="2.2" fill="#dc5a06"/>
<line x1="171.7" y1="294.8" x2="171.7" y2="315.9" class="wh"/>
<line x1="171.7" y1="331.5" x2="171.7" y2="340.1" class="wh"/>
<line x1="169.29999999999998" y1="294.8" x2="174.1" y2="294.8" class="cap"/>
<line x1="169.29999999999998" y1="340.1" x2="174.1" y2="340.1" class="cap"/>
<rect x="164.4" y="315.9" width="14.5" height="15.600000000000023" fill="#1b9e77" class="bx"/>
<line x1="164.4" y1="321.9" x2="178.9" y2="321.9" class="md"/>
<line x1="200" y1="346.8" x2="200" y2="352" class="wh"/>
<line x1="200" y1="376.4" x2="200" y2="393.2" class="wh"/>
<line x1="197.6" y1="346.8" x2="202.4" y2="346.8" class="cap"/>
<line x1="197.6" y1="393.2" x2="202.4" y2="393.2" class="cap"/>
<rect x="192.5" y="352" width="15.099999999999994" height="24.399999999999977" fill="#fd6105" class="bx"/>
<line x1="192.5" y1="366.4" x2="207.6" y2="366.4" class="md"/>
<text x="168.8" y="286.5" class="lt" text-anchor="middle">a</text>
<text x="199.3" y="286.5" class="lt" text-anchor="middle">b</text>
<path d="M 228.40 359.28 L 228.47 359.28 L 228.49 358.84 L 228.50 358.40 L 228.53 357.96 L 228.55 357.52 L 228.58 357.08 L 228.62 356.65 L 228.66 356.21 L 228.71 355.77 L 228.77 355.33 L 228.84 354.89 L 228.92 354.45 L 229.00 354.01 L 229.10 353.57 L 229.22 353.13 L 229.35 352.69 L 229.49 352.25 L 229.65 351.81 L 229.83 351.37 L 230.03 350.93 L 230.25 350.49 L 230.49 350.05 L 230.76 349.61 L 231.05 349.17 L 231.37 348.73 L 231.71 348.29 L 232.08 347.86 L 232.48 347.42 L 232.91 346.98 L 233.36 346.54 L 233.85 346.10 L 234.36 345.66 L 234.91 345.22 L 235.49 344.78 L 236.09 344.34 L 236.73 343.90 L 237.39 343.46 L 238.08 343.02 L 238.80 342.58 L 239.54 342.14 L 240.30 341.70 L 241.09 341.26 L 241.90 340.82 L 242.73 340.38 L 243.57 339.94 L 244.43 339.50 L 245.29 339.06 L 246.17 338.63 L 247.05 338.19 L 247.93 337.75 L 248.82 337.31 L 249.69 336.87 L 250.57 336.43 L 251.43 335.99 L 252.27 335.55 L 253.10 335.11 L 253.91 334.67 L 254.70 334.23 L 255.46 333.79 L 256.20 333.35 L 256.90 332.91 L 257.57 332.47 L 258.21 332.03 L 258.81 331.59 L 259.37 331.15 L 259.90 330.71 L 260.39 330.27 L 260.84 329.84 L 261.25 329.40 L 261.62 328.96 L 261.96 328.52 L 262.26 328.08 L 262.52 327.64 L 262.75 327.20 L 262.94 326.76 L 263.09 326.32 L 263.22 325.88 L 263.31 325.44 L 263.37 325.00 L 263.40 324.56 L 263.40 324.12 L 263.36 323.68 L 263.30 323.24 L 263.21 322.80 L 263.09 322.36 L 262.94 321.92 L 262.77 321.48 L 262.56 321.04 L 262.33 320.61 L 262.06 320.17 L 261.77 319.73 L 261.44 319.29 L 261.09 318.85 L 260.71 318.41 L 260.30 317.97 L 259.86 317.53 L 259.40 317.09 L 258.90 316.65 L 258.38 316.21 L 257.83 315.77 L 257.26 315.33 L 256.66 314.89 L 256.05 314.45 L 255.41 314.01 L 254.75 313.57 L 254.08 313.13 L 253.39 312.69 L 252.69 312.25 L 251.97 311.82 L 251.26 311.38 L 250.53 310.94 L 249.81 310.50 L 249.08 310.06 L 248.36 309.62 L 247.64 309.18 L 246.93 308.74 L 246.24 308.30 L 245.55 307.86 L 244.89 307.42 L 244.24 306.98 L 243.61 306.54 L 243.01 306.10 L 242.43 305.66 L 241.88 305.22 L 241.36 304.78 L 240.86 304.34 L 240.39 303.90 L 239.96 303.46 L 239.55 303.02 L 239.18 302.59 L 238.83 302.15 L 238.51 301.71 L 238.23 301.27 L 237.96 300.83 L 237.72 300.39 L 237.50 299.95 L 237.30 299.51 L 237.12 299.07 L 236.95 298.63 L 236.80 298.19 L 236.65 297.75 L 236.51 297.31 L 236.37 296.87 L 236.23 296.43 L 236.08 295.99 L 235.94 295.55 L 235.78 295.11 L 235.62 294.67 L 235.45 294.23 L 235.27 293.80 L 235.08 293.36 L 234.87 292.92 L 234.66 292.48 L 234.43 292.04 L 234.20 291.60 L 233.95 291.16 L 233.70 290.72 L 233.44 290.28 L 233.17 289.84 L 232.90 289.40 Z" fill="#00977f" fill-opacity="0.58" stroke="#1d4a40" class="dn"/>
<path d="M 228.40 415.28 L 228.46 415.28 L 228.48 414.71 L 228.50 414.14 L 228.52 413.57 L 228.55 413.00 L 228.58 412.43 L 228.62 411.86 L 228.67 411.29 L 228.72 410.72 L 228.79 410.15 L 228.86 409.58 L 228.95 409.01 L 229.05 408.44 L 229.16 407.87 L 229.29 407.30 L 229.43 406.73 L 229.59 406.16 L 229.76 405.59 L 229.96 405.02 L 230.17 404.45 L 230.40 403.88 L 230.65 403.31 L 230.92 402.74 L 231.20 402.17 L 231.51 401.60 L 231.83 401.03 L 232.17 400.46 L 232.52 399.89 L 232.89 399.32 L 233.27 398.75 L 233.66 398.18 L 234.07 397.61 L 234.49 397.04 L 234.92 396.47 L 235.36 395.90 L 235.80 395.32 L 236.26 394.75 L 236.73 394.18 L 237.21 393.61 L 237.70 393.04 L 238.20 392.47 L 238.71 391.90 L 239.24 391.33 L 239.78 390.76 L 240.33 390.19 L 240.90 389.62 L 241.48 389.05 L 242.08 388.48 L 242.69 387.91 L 243.31 387.34 L 243.94 386.77 L 244.58 386.20 L 245.22 385.63 L 245.87 385.06 L 246.51 384.49 L 247.15 383.92 L 247.78 383.35 L 248.40 382.78 L 249.00 382.21 L 249.57 381.64 L 250.12 381.07 L 250.63 380.50 L 251.12 379.93 L 251.56 379.36 L 251.96 378.79 L 252.32 378.22 L 252.63 377.65 L 252.90 377.08 L 253.12 376.51 L 253.30 375.94 L 253.42 375.37 L 253.51 374.80 L 253.54 374.23 L 253.54 373.66 L 253.50 373.09 L 253.43 372.52 L 253.32 371.95 L 253.18 371.38 L 253.02 370.81 L 252.84 370.24 L 252.63 369.66 L 252.42 369.09 L 252.19 368.52 L 251.96 367.95 L 251.73 367.38 L 251.49 366.81 L 251.26 366.24 L 251.03 365.67 L 250.82 365.10 L 250.61 364.53 L 250.41 363.96 L 250.23 363.39 L 250.07 362.82 L 249.92 362.25 L 249.79 361.68 L 249.68 361.11 L 249.58 360.54 L 249.51 359.97 L 249.44 359.40 L 249.40 358.83 L 249.36 358.26 L 249.34 357.69 L 249.32 357.12 L 249.31 356.55 L 249.29 355.98 L 249.27 355.41 L 249.23 354.84 L 249.18 354.27 L 249.10 353.70 L 249.00 353.13 L 248.87 352.56 L 248.69 351.99 L 248.48 351.42 L 248.22 350.85 L 247.91 350.28 L 247.55 349.71 L 247.13 349.14 L 246.67 348.57 L 246.15 348.00 L 245.58 347.43 L 244.97 346.86 L 244.31 346.29 L 243.62 345.72 L 242.89 345.15 L 242.14 344.58 L 241.36 344.00 L 240.58 343.43 L 239.79 342.86 L 238.99 342.29 L 238.21 341.72 L 237.44 341.15 L 236.68 340.58 L 235.96 340.01 L 235.26 339.44 L 234.59 338.87 L 233.96 338.30 L 233.37 337.73 L 232.82 337.16 L 232.30 336.59 L 231.83 336.02 L 231.40 335.45 L 231.01 334.88 L 230.66 334.31 L 230.35 333.74 L 230.07 333.17 L 229.82 332.60 L 229.60 332.03 L 229.41 331.46 L 229.25 330.89 L 229.11 330.32 L 228.99 329.75 L 228.88 329.18 L 228.80 328.61 L 228.72 328.04 L 228.66 327.47 L 228.61 326.90 L 228.57 326.33 L 228.53 325.76 L 228.51 325.19 L 228.48 324.62 Z" fill="#f56916" fill-opacity="0.58" stroke="#4a2e1c" class="dn"/>
<line x1="228.4" y1="289.4" x2="228.4" y2="415.2825249994264" class="bl"/>
<text x="287.6" y="245.9" class="pl">D</text>
<text x="421" y="262.3" class="ti" text-anchor="middle">Annealing No</text>
<line x1="330.8" y1="289.4" x2="330.8" y2="416.59999999999997" class="ax"/>
<line x1="326.2" y1="289.4" x2="330.8" y2="289.4" class="ax"/>
<text x="321.4" y="293.0" class="tk" text-anchor="end">120</text>
<line x1="326.2" y1="310.59999999999997" x2="330.8" y2="310.59999999999997" class="ax"/>
<text x="321.4" y="314.2" class="tk" text-anchor="end">100</text>
<line x1="326.2" y1="331.79999999999995" x2="330.8" y2="331.79999999999995" class="ax"/>
<text x="321.4" y="335.4" class="tk" text-anchor="end">80</text>
<line x1="326.2" y1="353.0" x2="330.8" y2="353.0" class="ax"/>
<text x="321.4" y="356.6" class="tk" text-anchor="end">60</text>
<line x1="326.2" y1="374.2" x2="330.8" y2="374.2" class="ax"/>
<text x="321.4" y="377.8" class="tk" text-anchor="end">40</text>
<line x1="326.2" y1="395.4" x2="330.8" y2="395.4" class="ax"/>
<text x="321.4" y="399.0" class="tk" text-anchor="end">20</text>
<line x1="326.2" y1="416.59999999999997" x2="330.8" y2="416.59999999999997" class="ax"/>
<text x="321.4" y="420.2" class="tk" text-anchor="end">0</text>
<line x1="347.2" y1="422.6" x2="418.3" y2="422.6" class="ax"/>
<line x1="347.2" y1="422.6" x2="347.2" y2="426.90000000000003" class="ax"/>
<text x="347.2" y="438.2" class="tc" text-anchor="middle">Sucrose</text>
<line x1="418.3" y1="422.6" x2="418.3" y2="426.90000000000003" class="ax"/>
<text x="418.3" y="438.2" class="tc" text-anchor="middle">Trehalose</text>
<text x="442.9" y="456.5" class="xl" text-anchor="middle">Lyoprotectant type</text>
<text class="yl" transform="translate(298.3,352.6) rotate(-90)" text-anchor="middle">FD survival (%)</text>
<circle cx="341.7" cy="302.3" r="2.2" fill="#168f6b"/>
<circle cx="347.3" cy="311.4" r="2.2" fill="#168f6b"/>
<circle cx="343.4" cy="314.7" r="2.2" fill="#168f6b"/>
<circle cx="345.3" cy="316.2" r="2.2" fill="#168f6b"/>
<circle cx="352.3" cy="317" r="2.2" fill="#168f6b"/>
<circle cx="351.8" cy="323.8" r="2.2" fill="#168f6b"/>
<circle cx="341.4" cy="324.8" r="2.2" fill="#168f6b"/>
<circle cx="345.8" cy="327" r="2.2" fill="#168f6b"/>
<circle cx="348.4" cy="329" r="2.2" fill="#168f6b"/>
<circle cx="340.4" cy="333.6" r="2.2" fill="#168f6b"/>
<circle cx="342.1" cy="349.9" r="2.2" fill="#168f6b"/>
<circle cx="345.8" cy="357.7" r="2.2" fill="#168f6b"/>
<circle cx="419.7" cy="299.7" r="2.2" fill="#dc5a06"/>
<circle cx="411.7" cy="319.6" r="2.2" fill="#dc5a06"/>
<circle cx="420.1" cy="320.5" r="2.2" fill="#dc5a06"/>
<circle cx="424.4" cy="322.2" r="2.2" fill="#dc5a06"/>
<circle cx="414.7" cy="327.4" r="2.2" fill="#dc5a06"/>
<circle cx="417.3" cy="332.2" r="2.2" fill="#dc5a06"/>
<circle cx="416.9" cy="334.2" r="2.2" fill="#dc5a06"/>
<circle cx="419.6" cy="351.3" r="2.2" fill="#dc5a06"/>
<circle cx="419.6" cy="357.5" r="2.2" fill="#dc5a06"/>
<circle cx="424" cy="358.2" r="2.2" fill="#dc5a06"/>
<line x1="452.5" y1="302" x2="452.5" y2="315.9" class="wh"/>
<line x1="452.5" y1="330.3" x2="452.5" y2="350" class="wh"/>
<line x1="450.1" y1="302" x2="454.9" y2="302" class="cap"/>
<line x1="450.1" y1="350" x2="454.9" y2="350" class="cap"/>
<rect x="445.2" y="315.9" width="14.600000000000023" height="14.400000000000034" fill="#1b9e77" class="bx"/>
<line x1="445.2" y1="324.2" x2="459.8" y2="324.2" class="md"/>
<line x1="480.7" y1="299.8" x2="480.7" y2="321.6" class="wh"/>
<line x1="480.7" y1="352.4" x2="480.7" y2="358.1" class="wh"/>
<line x1="478.3" y1="299.8" x2="483.09999999999997" y2="299.8" class="cap"/>
<line x1="478.3" y1="358.1" x2="483.09999999999997" y2="358.1" class="cap"/>
<rect x="473.3" y="321.6" width="14.699999999999989" height="30.799999999999955" fill="#fd6105" class="bx"/>
<line x1="473.3" y1="332.4" x2="488" y2="332.4" class="md"/>
<text x="452.9" y="296.5" class="lt" text-anchor="middle">a</text>
<text x="479.3" y="295.7" class="lt" text-anchor="middle">a</text>
<path d="M 509.40 289.40 L 511.60 289.40 L 511.72 289.91 L 511.85 290.41 L 511.99 290.92 L 512.14 291.43 L 512.29 291.93 L 512.46 292.44 L 512.63 292.95 L 512.80 293.46 L 512.99 293.96 L 513.17 294.47 L 513.37 294.98 L 513.57 295.48 L 513.79 295.99 L 514.02 296.50 L 514.26 297.00 L 514.52 297.51 L 514.80 298.02 L 515.10 298.52 L 515.43 299.03 L 515.80 299.54 L 516.19 300.05 L 516.61 300.55 L 517.05 301.06 L 517.51 301.57 L 517.99 302.07 L 518.48 302.58 L 518.99 303.09 L 519.51 303.59 L 520.07 304.10 L 520.65 304.61 L 521.25 305.11 L 521.88 305.62 L 522.54 306.13 L 523.21 306.64 L 523.90 307.14 L 524.62 307.65 L 525.35 308.16 L 526.09 308.66 L 526.87 309.17 L 527.70 309.68 L 528.56 310.18 L 529.45 310.69 L 530.38 311.20 L 531.33 311.70 L 532.32 312.21 L 533.44 312.72 L 534.63 313.23 L 535.84 313.73 L 536.98 314.24 L 537.97 314.75 L 538.79 315.25 L 539.54 315.76 L 540.25 316.27 L 540.90 316.77 L 541.49 317.28 L 542.00 317.79 L 542.45 318.29 L 542.82 318.80 L 543.19 319.31 L 543.53 319.82 L 543.83 320.32 L 544.06 320.83 L 544.18 321.34 L 544.19 321.84 L 544.07 322.35 L 543.86 322.86 L 543.57 323.36 L 543.23 323.87 L 542.86 324.38 L 542.48 324.88 L 542.09 325.39 L 541.61 325.90 L 541.07 326.41 L 540.46 326.91 L 539.80 327.42 L 539.10 327.93 L 538.35 328.43 L 537.51 328.94 L 536.58 329.45 L 535.59 329.95 L 534.55 330.46 L 533.47 330.97 L 532.30 331.47 L 530.99 331.98 L 529.59 332.49 L 528.17 332.99 L 526.79 333.50 L 525.50 334.01 L 524.37 334.52 L 523.32 335.02 L 522.30 335.53 L 521.31 336.04 L 520.40 336.54 L 519.58 337.05 L 518.88 337.56 L 518.34 338.06 L 517.85 338.57 L 517.39 339.08 L 516.98 339.58 L 516.66 340.09 L 516.45 340.60 L 516.40 341.11 L 516.45 341.61 L 516.57 342.12 L 516.74 342.63 L 516.93 343.13 L 517.15 343.64 L 517.37 344.15 L 517.57 344.65 L 517.76 345.16 L 517.96 345.67 L 518.18 346.17 L 518.42 346.68 L 518.67 347.19 L 518.91 347.70 L 519.14 348.20 L 519.34 348.71 L 519.50 349.22 L 519.62 349.72 L 519.69 350.23 L 519.70 350.74 L 519.68 351.24 L 519.65 351.75 L 519.60 352.26 L 519.55 352.76 L 519.48 353.27 L 519.41 353.78 L 519.32 354.29 L 519.24 354.79 L 519.14 355.30 L 519.00 355.81 L 518.83 356.31 L 518.63 356.82 L 518.40 357.33 L 518.14 357.83 L 517.87 358.34 L 517.58 358.85 L 517.28 359.35 L 516.98 359.86 L 516.66 360.37 L 516.29 360.88 L 515.88 361.38 L 515.43 361.89 L 514.95 362.40 L 514.46 362.90 L 513.96 363.41 L 513.47 363.92 L 512.99 364.42 L 512.54 364.93 L 512.12 365.44 L 511.74 365.94 L 511.40 366.45 L 511.07 366.96 L 510.75 367.47 L 510.45 367.97 L 510.17 368.48 L 509.90 368.99 L 509.64 369.49 L 509.40 370.00 Z" fill="#00977f" fill-opacity="0.58" stroke="#1d4a40" class="dn"/>
<path d="M 509.40 390.12 L 509.50 390.12 L 509.52 389.49 L 509.54 388.85 L 509.56 388.22 L 509.59 387.59 L 509.63 386.95 L 509.67 386.32 L 509.72 385.69 L 509.77 385.05 L 509.83 384.42 L 509.90 383.79 L 509.98 383.15 L 510.07 382.52 L 510.17 381.89 L 510.28 381.25 L 510.41 380.62 L 510.55 379.99 L 510.70 379.35 L 510.87 378.72 L 511.06 378.08 L 511.26 377.45 L 511.48 376.82 L 511.72 376.18 L 511.98 375.55 L 512.26 374.92 L 512.56 374.28 L 512.87 373.65 L 513.21 373.02 L 513.56 372.38 L 513.93 371.75 L 514.32 371.12 L 514.73 370.48 L 515.15 369.85 L 515.58 369.22 L 516.02 368.58 L 516.47 367.95 L 516.93 367.32 L 517.39 366.68 L 517.85 366.05 L 518.31 365.42 L 518.77 364.78 L 519.22 364.15 L 519.66 363.52 L 520.09 362.88 L 520.50 362.25 L 520.89 361.61 L 521.27 360.98 L 521.62 360.35 L 521.96 359.71 L 522.26 359.08 L 522.54 358.45 L 522.79 357.81 L 523.02 357.18 L 523.22 356.55 L 523.39 355.91 L 523.53 355.28 L 523.66 354.65 L 523.76 354.01 L 523.83 353.38 L 523.90 352.75 L 523.94 352.11 L 523.98 351.48 L 524.01 350.85 L 524.03 350.21 L 524.05 349.58 L 524.07 348.95 L 524.10 348.31 L 524.14 347.68 L 524.19 347.05 L 524.26 346.41 L 524.35 345.78 L 524.45 345.14 L 524.59 344.51 L 524.74 343.88 L 524.93 343.24 L 525.14 342.61 L 525.37 341.98 L 525.64 341.34 L 525.93 340.71 L 526.25 340.08 L 526.59 339.44 L 526.96 338.81 L 527.34 338.18 L 527.75 337.54 L 528.16 336.91 L 528.59 336.28 L 529.02 335.64 L 529.45 335.01 L 529.88 334.38 L 530.31 333.74 L 530.72 333.11 L 531.12 332.48 L 531.49 331.84 L 531.85 331.21 L 532.17 330.58 L 532.46 329.94 L 532.72 329.31 L 532.94 328.67 L 533.11 328.04 L 533.24 327.41 L 533.33 326.77 L 533.36 326.14 L 533.35 325.51 L 533.29 324.87 L 533.17 324.24 L 533.01 323.61 L 532.80 322.97 L 532.54 322.34 L 532.23 321.71 L 531.88 321.07 L 531.49 320.44 L 531.06 319.81 L 530.59 319.17 L 530.09 318.54 L 529.57 317.91 L 529.02 317.27 L 528.45 316.64 L 527.87 316.01 L 527.27 315.37 L 526.67 314.74 L 526.06 314.11 L 525.45 313.47 L 524.85 312.84 L 524.25 312.20 L 523.67 311.57 L 523.09 310.94 L 522.53 310.30 L 521.99 309.67 L 521.47 309.04 L 520.97 308.40 L 520.48 307.77 L 520.02 307.14 L 519.58 306.50 L 519.16 305.87 L 518.77 305.24 L 518.39 304.60 L 518.03 303.97 L 517.69 303.34 L 517.36 302.70 L 517.05 302.07 L 516.76 301.44 L 516.48 300.80 L 516.21 300.17 L 515.94 299.54 L 515.69 298.90 L 515.44 298.27 L 515.20 297.64 L 514.97 297.00 L 514.74 296.37 L 514.51 295.73 L 514.29 295.10 L 514.06 294.47 L 513.85 293.83 L 513.63 293.20 L 513.41 292.57 L 513.20 291.93 L 513.00 291.30 L 512.79 290.67 L 512.59 290.03 L 512.39 289.40 Z" fill="#f56916" fill-opacity="0.58" stroke="#4a2e1c" class="dn"/>
<line x1="509.4" y1="289.4" x2="509.4" y2="390.1205714419981" class="bl"/>
</svg></body></html>
